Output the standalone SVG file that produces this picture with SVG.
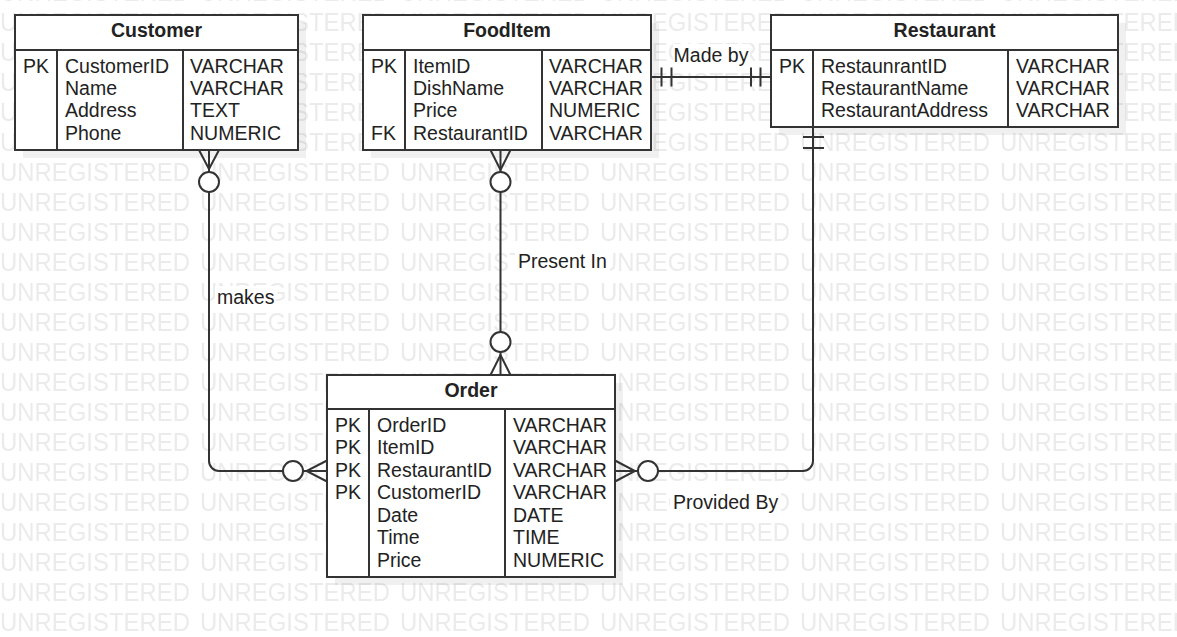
<svg xmlns="http://www.w3.org/2000/svg" width="1177" height="637" viewBox="0 0 1177 637">
<defs>
<pattern id="wm" x="0" y="1" width="200" height="30" patternUnits="userSpaceOnUse">
<text x="0" y="30" class="wmt" textLength="190" lengthAdjust="spacingAndGlyphs">UNREGISTERED</text>
</pattern>
<style>
.wmt{font-family:"Liberation Sans",Arial,sans-serif;font-size:25px;fill:#ebebeb}
.box{fill:#fff;stroke:#333;stroke-width:2}
.sh{fill:#000;fill-opacity:0.06}
.ln{fill:none;stroke:#333;stroke-width:2}
.cl{fill:#fff;stroke:#333;stroke-width:2}
.t{font-family:"Liberation Sans",Arial,sans-serif;font-size:19.5px;fill:#222}
.h{font-family:"Liberation Sans",Arial,sans-serif;font-size:19.5px;font-weight:bold;fill:#222;text-anchor:middle}
.lbbg{fill:#fff}
</style>
</defs>
<rect width="1177" height="637" fill="#fff"/>
<rect width="1177" height="637" fill="url(#wm)"/>

<g id="shadows">
<rect class="sh" x="23" y="23" width="283" height="135"/>
<rect class="sh" x="371" y="23" width="288" height="135"/>
<rect class="sh" x="779" y="23" width="347" height="112"/>
<rect class="sh" x="335" y="383" width="288" height="202"/>
</g>

<g id="connectors">
<path class="ln" d="M209,150 V461 A10,10 0 0 0 219,471 H327"/>
<path class="ln" d="M199,150 L209,169 L219,150"/>
<path class="ln" d="M327,460.5 L306.5,471 L327,481.5"/>
<circle class="cl" cx="209" cy="182" r="10"/>
<circle class="cl" cx="293" cy="471" r="10"/>

<path class="ln" d="M500.5,150 V375"/>
<path class="ln" d="M490.5,150 L500.5,170 L510.5,150"/>
<path class="ln" d="M490.5,375 L500.5,355 L510.5,375"/>
<circle class="cl" cx="500.5" cy="182" r="10"/>
<circle class="cl" cx="500.5" cy="342" r="10"/>

<path class="ln" d="M615,471 H803 A10,10 0 0 0 813,461 V127"/>
<path class="ln" d="M615,460.5 L635,471 L615,481.5"/>
<circle class="cl" cx="648" cy="471" r="10"/>
<path class="ln" d="M803,137 H824 M803,148 H824"/>

<path class="ln" d="M651,77 H771"/>
<path class="ln" d="M661.5,67.5 V86.5 M671.5,67.5 V86.5 M751,67.5 V86.5 M760.5,67.5 V86.5"/>

<rect class="lbbg" x="673" y="44" width="77" height="22"/>
<text class="t" x="711" y="62" text-anchor="middle">Made by</text>
<rect class="lbbg" x="215" y="286" width="61" height="22"/>
<text class="t" x="217" y="304">makes</text>
<rect class="lbbg" x="515" y="250" width="95" height="22"/>
<text class="t" x="518" y="268">Present In</text>
<rect class="lbbg" x="670" y="491" width="111" height="23"/>
<text class="t" x="673" y="509">Provided By</text>
</g>

<g id="Customer">
<rect class="box" x="15" y="15" width="283" height="135"/>
<path class="ln" d="M15,50 H298 M57,50 V150 M183,50 V150"/>
<text class="h" x="156.5" y="37">Customer</text>
<text class="t" x="23" y="73">PK</text>
<text class="t" x="65" y="73">CustomerID</text>
<text class="t" x="65" y="95.2">Name</text>
<text class="t" x="65" y="117.4">Address</text>
<text class="t" x="65" y="139.6">Phone</text>
<text class="t" x="190" y="73">VARCHAR</text>
<text class="t" x="190" y="95.2">VARCHAR</text>
<text class="t" x="190" y="117.4">TEXT</text>
<text class="t" x="190" y="139.6">NUMERIC</text>
</g>

<g id="FoodItem">
<rect class="box" x="363" y="15" width="288" height="135"/>
<path class="ln" d="M363,50 H651 M405,50 V150 M542,50 V150"/>
<text class="h" x="507" y="37">FoodItem</text>
<text class="t" x="371" y="73">PK</text>
<text class="t" x="371" y="139.6">FK</text>
<text class="t" x="413" y="73">ItemID</text>
<text class="t" x="413" y="95.2">DishName</text>
<text class="t" x="413" y="117.4">Price</text>
<text class="t" x="413" y="139.6">RestaurantID</text>
<text class="t" x="549" y="73">VARCHAR</text>
<text class="t" x="549" y="95.2">VARCHAR</text>
<text class="t" x="549" y="117.4">NUMERIC</text>
<text class="t" x="549" y="139.6">VARCHAR</text>
</g>

<g id="Restaurant">
<rect class="box" x="771" y="15" width="347" height="112"/>
<path class="ln" d="M771,50 H1118 M813,50 V127 M1008,50 V127"/>
<text class="h" x="944.5" y="37">Restaurant</text>
<text class="t" x="779" y="73">PK</text>
<text class="t" x="821" y="73">RestaunrantID</text>
<text class="t" x="821" y="95.2">RestaurantName</text>
<text class="t" x="821" y="117.4">RestaurantAddress</text>
<text class="t" x="1016" y="73">VARCHAR</text>
<text class="t" x="1016" y="95.2">VARCHAR</text>
<text class="t" x="1016" y="117.4">VARCHAR</text>
</g>

<g id="Order">
<rect class="box" x="327" y="375" width="288" height="202"/>
<path class="ln" d="M327,409 H615 M369,409 V577 M505,409 V577"/>
<text class="h" x="471" y="397">Order</text>
<text class="t" x="335" y="431.7">PK</text>
<text class="t" x="335" y="454.2">PK</text>
<text class="t" x="335" y="476.7">PK</text>
<text class="t" x="335" y="499.2">PK</text>
<text class="t" x="377" y="431.7">OrderID</text>
<text class="t" x="377" y="454.2">ItemID</text>
<text class="t" x="377" y="476.7">RestaurantID</text>
<text class="t" x="377" y="499.2">CustomerID</text>
<text class="t" x="377" y="521.7">Date</text>
<text class="t" x="377" y="544.2">Time</text>
<text class="t" x="377" y="566.7">Price</text>
<text class="t" x="513" y="431.7">VARCHAR</text>
<text class="t" x="513" y="454.2">VARCHAR</text>
<text class="t" x="513" y="476.7">VARCHAR</text>
<text class="t" x="513" y="499.2">VARCHAR</text>
<text class="t" x="513" y="521.7">DATE</text>
<text class="t" x="513" y="544.2">TIME</text>
<text class="t" x="513" y="566.7">NUMERIC</text>
</g>
</svg>
